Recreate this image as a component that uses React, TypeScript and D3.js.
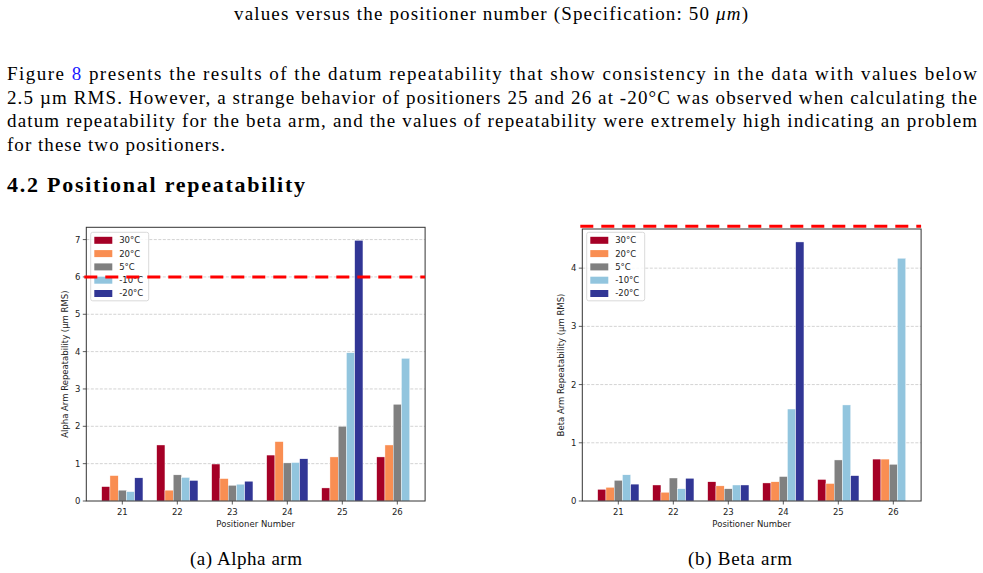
import React from 'react';
import * as d3 from 'd3';

// categories / series
const positioners = [21, 22, 23, 24, 25, 26];
const temps = ['30°C', '20°C', '5°C', '-10°C', '-20°C'];
const tempColors = ['#a50026', '#f98e52', '#808080', '#92c5de', '#313695'];

// alpha arm repeatability (um RMS), one array per temperature
const alpha30 = [0.385, 1.5, 0.99, 1.23, 0.35, 1.18];
const alpha20 = [0.68, 0.29, 0.6, 1.59, 1.18, 1.5];
const alpha5 = [0.29, 0.7, 0.42, 1.02, 2.0, 2.59];
const alphaM10 = [0.25, 0.63, 0.45, 1.03, 3.97, 3.82];
const alphaM20 = [0.62, 0.55, 0.53, 1.13, 6.98, null];

// beta arm repeatability (um RMS)
const beta30 = [0.2, 0.275, 0.33, 0.31, 0.37, 0.72];
const beta20 = [0.235, 0.15, 0.26, 0.33, 0.3, 0.72];
const beta5 = [0.355, 0.395, 0.21, 0.42, 0.705, 0.63];
const betaM10 = [0.45, 0.21, 0.275, 1.58, 1.65, 4.17];
const betaM20 = [0.29, 0.39, 0.275, 4.45, 0.435, null];

const alphaLimit = 6;
const betaLimit = 4.72;

const paraLines = [
  'presents the results of the datum repeatability that show consistency in the data with values below',
  '2.5 µm RMS. However, a strange behavior of positioners 25 and 26 at -20°C was observed when calculating the',
  'datum repeatability for the beta arm, and the values of repeatability were extremely high indicating an problem',
  'for these two positioners.',
];

const BW = 0.15;
const sans = 'DejaVu Sans, sans-serif';
const serif = 'Liberation Serif, DejaVu Serif, serif';

type ChartProps = {
  series: (number | null)[][];
  limit: number;
  ylabel: string;
  left: number;
  top: number;
  width: number;
  height: number;
  nTicks: number;
  legendDy: number;
};

const Chart = ({ series, limit, ylabel, left, top, width, height, nTicks, legendDy }: ChartProps) => {
  // matplotlib-like autoscale: extent of drawn bars + 5% margin
  const edges: number[] = [];
  series.forEach((vals, i) =>
    vals.forEach((v, j) => {
      if (v == null) return;
      const c = positioners[j] + (i - 2) * BW;
      edges.push(c - BW / 2, c + BW / 2);
    })
  );
  const [x0, x1] = d3.extent(edges) as [number, number];
  const pad = (x1 - x0) * 0.05;
  const x = d3.scaleLinear().domain([x0 - pad, x1 + pad]).range([left, left + width]);
  const ymax = d3.max(series.flat().filter((v) => v != null) as number[]) as number;
  const y = d3.scaleLinear().domain([0, ymax * 1.05]).range([top + height, top]);
  const yTicks = y.ticks(nTicks);
  const bw = x(BW) - x(0);
  const lx = left + 4.4;
  const ly = top + legendDy;

  return (
    <g fontFamily={sans}>
      {yTicks.filter((t) => t > 0).map((t) => (
        <line key={'g' + t} x1={left} x2={left + width} y1={y(t)} y2={y(t)}
          stroke="#c8c8c8" strokeWidth={0.8} strokeDasharray="3,1.5" />
      ))}
      {series.map((vals, i) =>
        vals.map((v, j) =>
          v == null ? null : (
            <rect key={i + '-' + j} x={x(positioners[j] + (i - 2) * BW) - bw / 2} y={y(v)}
              width={bw} height={y(0) - y(v)} fill={tempColors[i]} stroke="#fff" strokeWidth={0.4} />
          )
        )
      )}
      <rect x={left} y={top} width={width} height={height} fill="none" stroke="#333" strokeWidth={1} />
      {yTicks.map((t) => (
        <g key={'y' + t}>
          <line x1={left - 3.5} x2={left} y1={y(t)} y2={y(t)} stroke="#333" strokeWidth={0.8} />
          <text x={left - 6} y={y(t)} dy="0.35em" textAnchor="end" fontSize={8.5} fill="#222">{t}</text>
        </g>
      ))}
      {positioners.map((p) => (
        <g key={'x' + p}>
          <line x1={x(p)} x2={x(p)} y1={top + height} y2={top + height + 3.5} stroke="#333" strokeWidth={0.8} />
          <text x={x(p)} y={top + height + 14} textAnchor="middle" fontSize={8.5} fill="#222">{p}</text>
        </g>
      ))}
      <text x={left + width / 2} y={top + height + 26} textAnchor="middle" fontSize={8.5} fill="#222">Positioner Number</text>
      <text transform={`translate(${left - 21},${top + height / 2}) rotate(-90)`} dy="0.35em"
        textAnchor="middle" fontSize={8.5} fill="#222">{ylabel}</text>
      <rect x={lx} y={ly} width={58} height={68.5} rx={2} fill="#fff" fillOpacity={0.85} stroke="#d0d0d0" strokeWidth={0.8} />
      {temps.map((t, i) => (
        <g key={'l' + t}>
          <rect x={lx + 3.6} y={ly + 8 + i * 13.3 - 3.5} width={18} height={7} fill={tempColors[i]} />
          <text x={lx + 28.5} y={ly + 8 + i * 13.3} dy="0.35em" fontSize={8.5} fill="#222">{t}</text>
        </g>
      ))}
      <line x1={left - 2} x2={left + width} y1={y(limit)} y2={y(limit)} stroke="#ff0000"
        strokeWidth={3} strokeDasharray="13,8" />
    </g>
  );
};

const App = () => {
  const alpha = [alpha30, alpha20, alpha5, alphaM10, alphaM20];
  const beta = [beta30, beta20, beta5, betaM10, betaM20];
  return (
    <svg width={983} height={573} style={{ position: 'absolute', left: 0, top: 0, background: '#fff' }}>
      <rect width={983} height={573} fill="#fff" />
      <g fontFamily={serif} fill="#000">
        <text x={234} y={20} fontSize={19} textLength={514} lengthAdjust="spacing">
          values versus the positioner number (Specification: 50 <tspan fontStyle="italic">μm</tspan>)
        </text>
        <text x={7} y={80} fontSize={19} textLength={970} lengthAdjust="spacing">
          {'Figure '}<tspan fill="#1a1aff">8</tspan>{' ' + paraLines[0]}
        </text>
        {paraLines.slice(1).map((l, i) => (
          <text key={i} x={7} y={103.7 + i * 23.6} fontSize={19}
            textLength={i < 2 ? 970 : 218} lengthAdjust="spacing">{l}</text>
        ))}
        <text x={7} y={192} fontSize={22} fontWeight="bold" textLength={298} lengthAdjust="spacing">
          4.2  Positional repeatability
        </text>
        <text x={190} y={565} fontSize={19} textLength={112} lengthAdjust="spacing">(a) Alpha arm</text>
        <text x={688} y={565} fontSize={19} textLength={104} lengthAdjust="spacing">(b) Beta arm</text>
      </g>
      <Chart series={alpha} limit={alphaLimit} ylabel="Alpha Arm Repeatability (μm RMS)"
        left={86.3} top={227.3} width={338.8} height={273.7} nTicks={7} legendDy={5} />
      <Chart series={beta} limit={betaLimit} ylabel="Beta Arm Repeatability (μm RMS)"
        left={582.3} top={229} width={338.8} height={272} nTicks={4} legendDy={3.3} />
    </svg>
  );
};

export default App;
